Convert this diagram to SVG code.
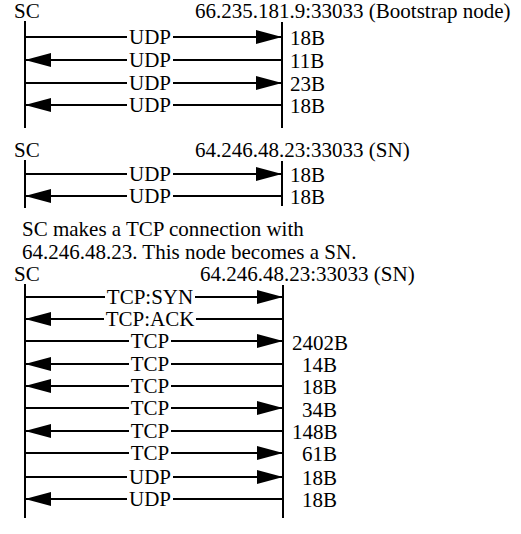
<svg xmlns="http://www.w3.org/2000/svg" width="521" height="534" viewBox="0 0 521 534">
<style>
text{font-family:"Liberation Serif","Times New Roman",serif;font-size:21px;fill:#000}
.life{stroke:#000;stroke-width:2;fill:none}
.msg{stroke:#000;stroke-width:2;fill:none}
.lbl{text-anchor:middle}
.r{marker-end:url(#ah)}
.l{marker-start:url(#ah)}
</style>
<defs>
<marker id="ah" markerUnits="userSpaceOnUse" markerWidth="26" markerHeight="14" refX="26" refY="7" orient="auto-start-reverse">
<path d="M0,0 L26,7 L0,14 z" fill="#000"/>
</marker>
</defs>
<rect width="521" height="534" fill="#fff"/>

<!-- Section 1 -->
<g id="sc1">
<text x="14" y="18">SC</text>
<line class="life" x1="25" y1="21" x2="25" y2="128"/>
</g>
<g id="bootstrap">
<text x="195" y="18">66.235.181.9:33033 (Bootstrap node)</text>
<line class="life" x1="282" y1="22" x2="282" y2="128"/>
</g>

<!-- Section 2 -->
<g id="sc2">
<text x="14" y="157">SC</text>
<line class="life" x1="25" y1="160" x2="25" y2="208"/>
</g>
<g id="sn1">
<text x="195" y="157">64.246.48.23:33033 (SN)</text>
<line class="life" x1="282" y1="161" x2="282" y2="206"/>
</g>

<g id="note">
<text x="22" y="236">SC makes a TCP connection with</text>
<text x="22" y="259">64.246.48.23. This node becomes a SN.</text>
</g>

<!-- Section 3 -->
<g id="sc3">
<text x="14" y="281">SC</text>
<line class="life" x1="25" y1="284" x2="25" y2="518"/>
</g>
<g id="sn2">
<text x="200" y="281">64.246.48.23:33033 (SN)</text>
<line class="life" x1="283" y1="285" x2="283" y2="518"/>
</g>

<g id="connectors">
<!-- section 1 -->
<line class="msg" x1="25" y1="37" x2="127" y2="37"/><line class="msg r" x1="173" y1="37" x2="282" y2="37"/>
<line class="msg l" x1="25" y1="60" x2="127" y2="60"/><line class="msg" x1="173" y1="60" x2="282" y2="60"/>
<line class="msg" x1="25" y1="83" x2="127" y2="83"/><line class="msg r" x1="173" y1="83" x2="282" y2="83"/>
<line class="msg l" x1="25" y1="105" x2="127" y2="105"/><line class="msg" x1="173" y1="105" x2="282" y2="105"/>
<!-- section 2 -->
<line class="msg" x1="25" y1="174" x2="127" y2="174"/><line class="msg r" x1="173" y1="174" x2="282" y2="174"/>
<line class="msg l" x1="25" y1="196" x2="127" y2="196"/><line class="msg" x1="173" y1="196" x2="282" y2="196"/>
<!-- section 3 -->
<line class="msg" x1="25" y1="297" x2="105" y2="297"/><line class="msg r" x1="195" y1="297" x2="283" y2="297"/>
<line class="msg l" x1="25" y1="319" x2="104" y2="319"/><line class="msg" x1="196" y1="319" x2="283" y2="319"/>
<line class="msg" x1="25" y1="341" x2="129" y2="341"/><line class="msg r" x1="171" y1="341" x2="283" y2="341"/>
<line class="msg l" x1="25" y1="364" x2="129" y2="364"/><line class="msg" x1="171" y1="364" x2="283" y2="364"/>
<line class="msg l" x1="25" y1="386" x2="129" y2="386"/><line class="msg" x1="171" y1="386" x2="283" y2="386"/>
<line class="msg" x1="25" y1="408" x2="129" y2="408"/><line class="msg r" x1="171" y1="408" x2="283" y2="408"/>
<line class="msg l" x1="25" y1="431" x2="129" y2="431"/><line class="msg" x1="171" y1="431" x2="283" y2="431"/>
<line class="msg" x1="25" y1="453" x2="129" y2="453"/><line class="msg r" x1="171" y1="453" x2="283" y2="453"/>
<line class="msg" x1="25" y1="477" x2="127" y2="477"/><line class="msg r" x1="173" y1="477" x2="283" y2="477"/>
<line class="msg l" x1="25" y1="499" x2="127" y2="499"/><line class="msg" x1="173" y1="499" x2="283" y2="499"/>

<g id="msg-labels">
<text class="lbl" x="150" y="44">UDP</text>
<text class="lbl" x="150" y="67">UDP</text>
<text class="lbl" x="150" y="90">UDP</text>
<text class="lbl" x="150" y="112">UDP</text>
<text class="lbl" x="150" y="181">UDP</text>
<text class="lbl" x="150" y="203">UDP</text>
<text class="lbl" x="150" y="304">TCP:SYN</text>
<text class="lbl" x="150" y="326">TCP:ACK</text>
<text class="lbl" x="150" y="348">TCP</text>
<text class="lbl" x="150" y="371">TCP</text>
<text class="lbl" x="150" y="393">TCP</text>
<text class="lbl" x="150" y="415">TCP</text>
<text class="lbl" x="150" y="438">TCP</text>
<text class="lbl" x="150" y="460">TCP</text>
<text class="lbl" x="150" y="484">UDP</text>
<text class="lbl" x="150" y="506">UDP</text>
</g>
</g>

<g id="sizes">
<text x="290" y="45">18B</text>
<text x="290" y="68">11B</text>
<text x="290" y="91">23B</text>
<text x="290" y="113">18B</text>
<text x="290" y="182">18B</text>
<text x="290" y="204">18B</text>
<text x="292" y="350">2402B</text>
<text x="302" y="372">14B</text>
<text x="302" y="394">18B</text>
<text x="302" y="417">34B</text>
<text x="292" y="439">148B</text>
<text x="302" y="461">61B</text>
<text x="302" y="485">18B</text>
<text x="302" y="507">18B</text>
</g>
</svg>
